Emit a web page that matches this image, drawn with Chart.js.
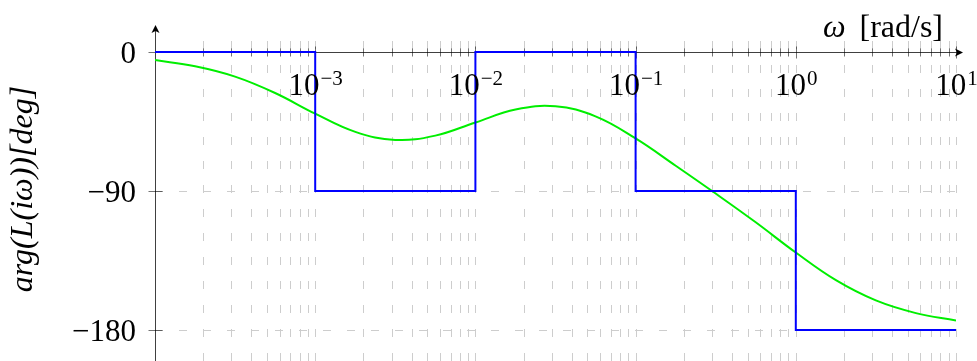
<!DOCTYPE html>
<html>
<head>
<meta charset="utf-8">
<script src="https://cdn.jsdelivr.net/npm/chart.js@4"></script>
<style>
  body { margin: 0; background: #fff; }
  #wrap { width: 977px; height: 361px; }
</style>
</head>
<body>
<div id="wrap"><canvas id="phaseChart"></canvas></div>
<script>
// asymptotic phase: value holds from each break frequency to the next
const breakFreqs = [1e-4, 1e-3, 1e-2, 1e-1, 1, 10];
const asymptotePhase = [0, -90, 0, -90, -180, -180];

// exact phase curve, quarter-decade samples
const freqs = [1e-4, 1.78e-4, 3.16e-4, 5.62e-4, 1e-3, 1.78e-3, 3.16e-3, 5.62e-3,
  1e-2, 1.78e-2, 3.16e-2, 5.62e-2, 0.1, 0.178, 0.316, 0.562, 1, 1.78, 3.16, 5.62, 10];
const phase = [-5.2, -9.2, -15.9, -26.5, -39.9, -51.7, -56.9, -54.1,
  -45.6, -37.2, -35.1, -41.6, -55.9, -73.6, -91.6, -110.2, -129.8, -147.7, -160.8, -169.0, -173.8];

const decadeExps = [-3, -2, -1, 0, 1];
const yTicks = [0, -90, -180];

const SERIF = '"Liberation Serif", "DejaVu Serif", serif';

function arrowHead(ctx, x, y, dir) {
  ctx.save();
  ctx.translate(x, y);
  ctx.rotate(dir);
  ctx.beginPath();
  ctx.moveTo(0, 0);
  ctx.lineTo(-8, -4);
  ctx.lineTo(-6, 0);
  ctx.lineTo(-8, 4);
  ctx.closePath();
  ctx.fillStyle = '#000';
  ctx.fill();
  ctx.restore();
}

const bodePlot = {
  id: 'bodePlot',
  beforeDatasetsDraw(chart) {
    const { ctx, scales: { x, y }, chartArea } = chart;
    const bottom = chart.height;
    ctx.save();

    // dashed grid: every minor log position, plus -90 and -180
    ctx.strokeStyle = '#cdcdcd';
    ctx.lineWidth = 1;
    ctx.setLineDash([8, 16]);
    for (let e = -4; e <= 1; e++) {
      for (let m = 1; m <= 9; m++) {
        const v = m * Math.pow(10, e);
        if (v <= 1e-4 || v > 10.0001) continue;
        const px = Math.round(x.getPixelForValue(v)) + 0.5;
        ctx.beginPath();
        ctx.moveTo(px, bottom);
        ctx.lineTo(px, chartArea.top);
        ctx.stroke();
      }
    }
    [-90, -180].forEach(v => {
      const py = Math.round(y.getPixelForValue(v)) + 0.5;
      ctx.beginPath();
      ctx.moveTo(chartArea.left, py);
      ctx.lineTo(chartArea.right, py);
      ctx.stroke();
    });
    ctx.setLineDash([]);

    // axis lines with arrows
    const x0 = Math.round(chartArea.left) + 0.5;
    const y0 = Math.round(y.getPixelForValue(0)) + 0.5;
    ctx.strokeStyle = 'rgba(0,0,0,0.75)';
    ctx.beginPath();
    ctx.moveTo(x0, bottom);
    ctx.lineTo(x0, 27);
    ctx.moveTo(chartArea.left, y0);
    ctx.lineTo(961, y0);
    ctx.stroke();
    arrowHead(ctx, x0, 25, -Math.PI / 2);
    arrowHead(ctx, 963, y0, 0);

    // tick marks
    ctx.strokeStyle = 'rgba(0,0,0,0.55)';
    yTicks.forEach(v => {
      const py = Math.round(y.getPixelForValue(v)) + 0.5;
      ctx.beginPath();
      ctx.moveTo(x0 - 7, py);
      ctx.lineTo(x0 + 7, py);
      ctx.stroke();
    });
    for (let e = -4; e <= 1; e++) {
      for (let m = 1; m <= 9; m++) {
        const v = m * Math.pow(10, e);
        if (v <= 1e-4 || v > 10.0001) continue;
        const px = Math.round(x.getPixelForValue(v)) + 0.5;
        const h = m === 1 ? 6 : 4;
        ctx.beginPath();
        ctx.moveTo(px, y0 - h);
        ctx.lineTo(px, y0 + h);
        ctx.stroke();
      }
    }
    ctx.restore();
  },
  afterDraw(chart) {
    const { ctx, scales: { x, y } } = chart;
    ctx.save();
    ctx.fillStyle = '#000';
    ctx.textBaseline = 'alphabetic';

    // x tick labels 10^k
    decadeExps.forEach(k => {
      const px = x.getPixelForValue(Math.pow(10, k));
      const sup = k < 0 ? '\u2212' + (-k) : String(k);
      ctx.font = '31px ' + SERIF;
      const wBase = ctx.measureText('10').width;
      ctx.font = '21px ' + SERIF;
      const wSup = ctx.measureText(sup).width;
      const left = px - (wBase + wSup) / 2;
      ctx.font = '31px ' + SERIF;
      ctx.textAlign = 'left';
      ctx.fillText('10', left, 95);
      ctx.font = '21px ' + SERIF;
      ctx.fillText(sup, left + wBase + 1, 85);
    });

    // y tick labels
    ctx.font = '31px ' + SERIF;
    ctx.textAlign = 'right';
    yTicks.forEach(v => {
      const py = y.getPixelForValue(v);
      const txt = v < 0 ? '\u2212' + (-v) : String(v);
      ctx.fillText(txt, 136, py + 11);
    });

    // x axis title
    ctx.textAlign = 'left';
    ctx.font = '32px ' + SERIF;
    const unit = '[rad/s]';
    const wUnit = ctx.measureText(unit).width;
    ctx.fillText(unit, 943 - wUnit, 37);
    ctx.font = 'italic 32px ' + SERIF;
    const wOmega = ctx.measureText('\u03c9').width;
    ctx.fillText('\u03c9', 943 - wUnit - 14 - wOmega, 37);

    // y axis title
    ctx.translate(32, 189);
    ctx.rotate(-Math.PI / 2);
    ctx.textAlign = 'center';
    ctx.font = 'italic 32px ' + SERIF;
    ctx.fillText('arg(L(i\u03c9))[deg]', 0, 0);
    ctx.restore();
  }
};

new Chart(document.getElementById('phaseChart'), {
  type: 'line',
  data: {
    datasets: [
      {
        label: 'asymptote',
        data: breakFreqs.map((f, i) => ({ x: f, y: asymptotePhase[i] })),
        stepped: true,
        borderColor: '#0000ff',
        borderWidth: 2,
        pointRadius: 0,
        fill: false
      },
      {
        label: 'phase',
        data: freqs.map((f, i) => ({ x: f, y: phase[i] })),
        tension: 0.4,
        borderColor: '#00ee00',
        borderWidth: 2,
        pointRadius: 0,
        fill: false
      }
    ]
  },
  options: {
    responsive: true,
    maintainAspectRatio: false,
    animation: false,
    layout: { padding: { left: 155, right: 21, top: 36.6, bottom: 0 } },
    plugins: { legend: { display: false }, tooltip: { enabled: false } },
    scales: {
      x: { type: 'logarithmic', min: 1e-4, max: 10, display: false },
      y: { type: 'linear', min: -200, max: 10, display: false }
    }
  },
  plugins: [bodePlot]
});
</script>
</body>
</html>
